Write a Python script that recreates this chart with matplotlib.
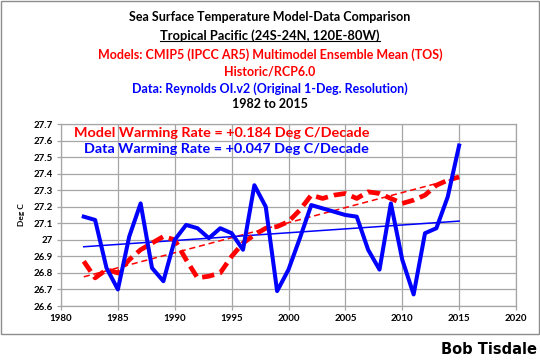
import numpy as np
import matplotlib
matplotlib.use('Agg')
import matplotlib.pyplot as plt
from matplotlib.patches import Rectangle

years = list(range(1982, 2016))
data_sst = [27.14, 27.12, 26.83, 26.70, 27.02, 27.22, 26.83, 26.75, 27.00, 27.09,
            27.07, 27.01, 27.07, 27.04, 26.94, 27.33, 27.20, 26.69, 26.82, 27.01,
            27.21, 27.19, 27.17, 27.15, 27.14, 26.94, 26.82, 27.22, 26.88, 26.67,
            27.04, 27.07, 27.26, 27.57]
model_sst = [26.87, 26.77, 26.82, 26.80, 26.88, 26.94, 26.98, 27.02, 27.00, 26.88,
             26.77, 26.78, 26.80, 26.90, 26.98, 27.03, 27.07, 27.08, 27.11, 27.18,
             27.27, 27.25, 27.27, 27.28, 27.25, 27.29, 27.28, 27.25, 27.22, 27.24,
             27.27, 27.33, 27.36, 27.38]
# rates as printed on the chart (deg C / decade)
model_rate = 0.184
data_rate = 0.047

RED = '#ff0000'
BLUE = '#0000ff'
GRID = '#a6a6a6'
FONT = 'Lato'

x = np.array(years)
m_fit = np.polyfit(x, model_sst, 1)
d_fit = np.polyfit(x, data_sst, 1)

fig = plt.figure(figsize=(5.4, 3.62), dpi=100, facecolor='white')
ax = fig.add_axes([61 / 540, 1 - 306 / 362, 455 / 540, 182 / 362])

ax.plot(x, model_sst, color=RED, lw=3.4, dashes=(2.6, 1.3), zorder=4)
ax.plot(x, np.polyval(m_fit, x), color=RED, lw=1.1, dashes=(4, 2.5), zorder=3)
ax.plot(x, data_sst, color=BLUE, lw=2.9, zorder=5)
ax.plot(x, np.polyval(d_fit, x), color=BLUE, lw=1.1, zorder=3)

ax.set_xlim(1980, 2020)
ax.set_ylim(26.6, 27.7)
ax.set_xticks(range(1980, 2021, 5))
yt = np.round(np.arange(26.6, 27.71, 0.1), 1)
ax.set_yticks(yt)
ax.set_yticklabels([f'{v:g}' for v in yt])
ax.grid(True, color=GRID, lw=0.9)
ax.set_axisbelow(True)
for s in ax.spines.values():
    s.set_color(GRID)
    s.set_linewidth(0.9)
ax.tick_params(direction='out', length=3, color=GRID, width=0.9, labelsize=7, pad=3)
for lab in ax.get_xticklabels() + ax.get_yticklabels():
    lab.set_fontweight('bold')
    lab.set_family(FONT)
ax.set_ylabel('Deg C', fontsize=6, fontweight='bold', family=FONT, labelpad=6)

ax.text(0.677, 0.95, 'Model Warming Rate = +%.3f Deg C/Decade' % model_rate,
        transform=ax.transAxes, ha='right', va='center', color=RED,
        fontsize=10.4, fontweight='bold', family=FONT, zorder=6)
ax.text(0.677, 0.863, 'Data Warming Rate = +%.3f Deg C/Decade' % data_rate,
        transform=ax.transAxes, ha='right', va='center', color=BLUE,
        fontsize=10.4, fontweight='bold', family=FONT, zorder=6)

# title block
titles = [
    ('Sea Surface Temperature Model-Data Comparison', 'black', 9, 17),
    ('Tropical Pacific (24S-24N, 120E-80W)', 'black', 9.3, 36),
    ('Models: CMIP5 (IPCC AR5) Multimodel Ensemble Mean (TOS)', RED, 9, 55),
    ('Historic/RCP6.0', RED, 9, 72),
    ('Data: Reynolds OI.v2 (Original 1-Deg. Resolution)', BLUE, 9, 89),
    ('1982 to 2015', 'black', 9, 104.5),
]
for txt, col, fs, ypx in titles:
    t = fig.text(0.5, 1 - ypx / 362, txt, ha='center', va='center', color=col,
                 fontsize=fs, fontweight='bold', family=FONT)
    if txt.startswith('Tropical'):
        fig.canvas.draw()
        bb = t.get_window_extent()
        yl = bb.y0 + 1
        fig.add_artist(plt.Line2D([bb.x0 / 540, bb.x1 / 540], [yl / 362, yl / 362],
                                  color='black', lw=0.8, transform=fig.transFigure))

fig.add_artist(Rectangle((0.5 / 540, 1 - 333.5 / 362), 538.5 / 540, 333 / 362,
                         transform=fig.transFigure, fill=False, ec='#8c8c8c', lw=1.0))
fig.text(537 / 540, 1 - 350 / 362, 'Bob Tisdale', ha='right', va='center',
         fontsize=10.5, fontweight='heavy', family='DejaVu Sans', color='black')

fig.savefig('out.png', dpi=100, facecolor='white')
